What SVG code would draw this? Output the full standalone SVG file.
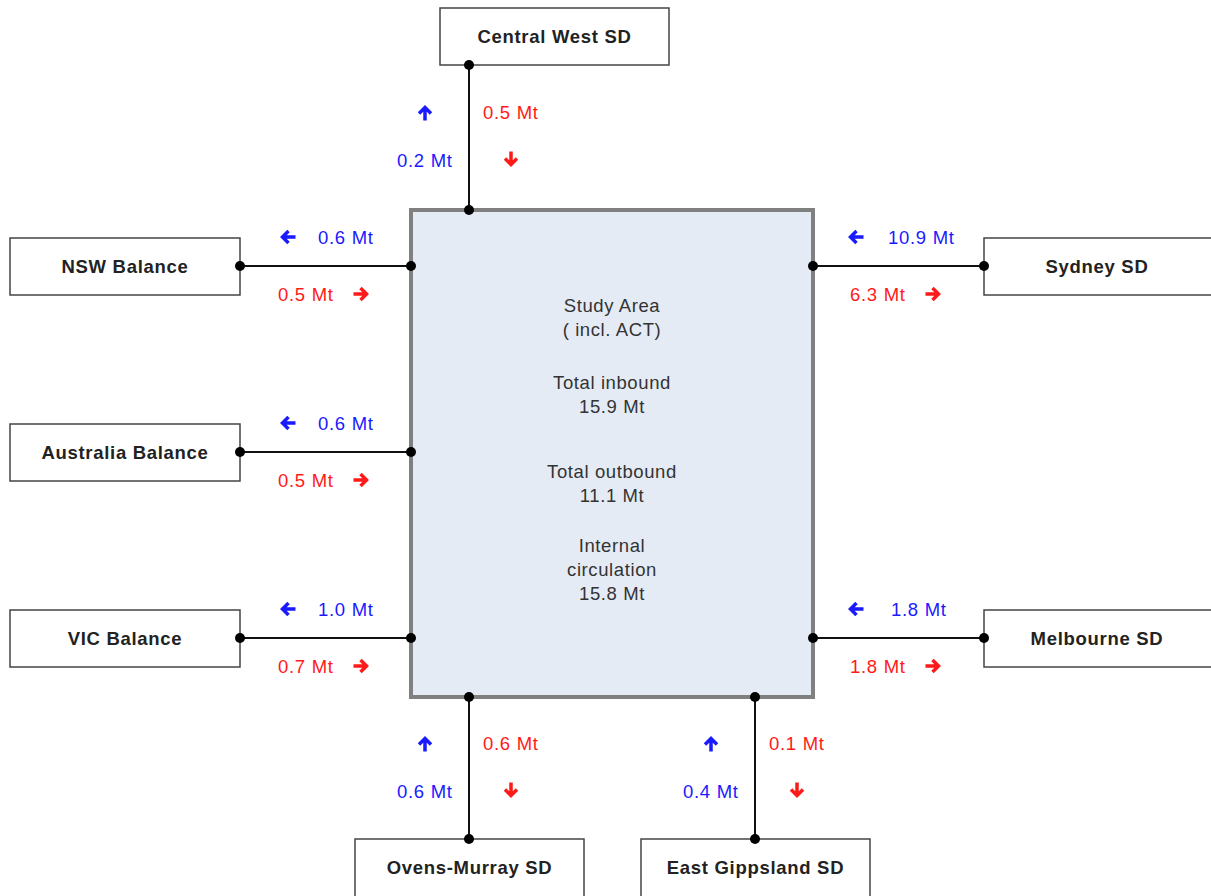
<svg xmlns="http://www.w3.org/2000/svg" width="1211" height="896" viewBox="0 0 1211 896">
<style>
.node{fill:#ffffff;stroke:#444444;stroke-width:1.5}
.nl{font-family:"Liberation Sans",Arial,sans-serif;font-size:18.5px;font-weight:bold;fill:#222222;text-anchor:middle;letter-spacing:0.7px}
.ct{font-family:"Liberation Sans",Arial,sans-serif;font-size:18.5px;fill:#333333;text-anchor:middle;letter-spacing:0.6px}
.lb{font-family:"Liberation Sans",Arial,sans-serif;font-size:18.5px;letter-spacing:0.7px}
.blue{fill:#1a1aff}
.red{fill:#ff1a1a}
.conn line{stroke:#111111;stroke-width:2}
.conn circle{fill:#000000}
.ab{stroke:#1a1aff;fill:none;stroke-width:3.5}
.ar{stroke:#ff1a1a;fill:none;stroke-width:3.5}
</style>
<defs>
<path id="arrow" d="M-7.5,0 H5 M-0.5,-6 L5.5,0 L-0.5,6"/>
</defs>

<g id="study-area">
<rect x="411" y="210" width="402" height="487" fill="#e5ebf5" stroke="#808080" stroke-width="4"/>
<text class="ct" x="612" y="311.5">Study Area</text>
<text class="ct" x="612" y="335.5">( incl. ACT)</text>
<text class="ct" x="612" y="388.5">Total inbound</text>
<text class="ct" x="612" y="412.5">15.9 Mt</text>
<text class="ct" x="612" y="477.5">Total outbound</text>
<text class="ct" x="612" y="501.5">11.1 Mt</text>
<text class="ct" x="612" y="551.5">Internal</text>
<text class="ct" x="612" y="575.5">circulation</text>
<text class="ct" x="612" y="599.5">15.8 Mt</text>
</g>

<g id="central-west">
<rect class="node" x="440" y="8" width="229" height="57"/>
<text class="nl" x="554.5" y="42.5">Central West SD</text>
</g>
<g id="nsw-balance">
<rect class="node" x="10" y="238" width="230" height="57"/>
<text class="nl" x="125" y="272.5">NSW Balance</text>
</g>
<g id="australia-balance">
<rect class="node" x="10" y="424" width="230" height="57"/>
<text class="nl" x="125" y="458.5">Australia Balance</text>
</g>
<g id="vic-balance">
<rect class="node" x="10" y="610" width="230" height="57"/>
<text class="nl" x="125" y="644.5">VIC Balance</text>
</g>
<g id="sydney">
<rect class="node" x="984" y="238" width="240" height="57"/>
<text class="nl" x="1097" y="272.5">Sydney SD</text>
</g>
<g id="melbourne">
<rect class="node" x="984" y="610" width="240" height="57"/>
<text class="nl" x="1097" y="644.5">Melbourne SD</text>
</g>
<g id="ovens-murray">
<rect class="node" x="355" y="839" width="229" height="70"/>
<text class="nl" x="469.5" y="873.5">Ovens-Murray SD</text>
</g>
<g id="east-gippsland">
<rect class="node" x="641" y="839" width="229" height="70"/>
<text class="nl" x="755.5" y="873.5">East Gippsland SD</text>
</g>

<g id="connectors" class="conn">
<line x1="469" y1="65" x2="469" y2="210"/>
<circle cx="469" cy="65" r="5"/><circle cx="469" cy="210" r="5"/>
<line x1="240" y1="266" x2="411" y2="266"/>
<circle cx="240" cy="266" r="5"/><circle cx="411" cy="266" r="5"/>
<line x1="240" y1="452" x2="411" y2="452"/>
<circle cx="240" cy="452" r="5"/><circle cx="411" cy="452" r="5"/>
<line x1="240" y1="638" x2="411" y2="638"/>
<circle cx="240" cy="638" r="5"/><circle cx="411" cy="638" r="5"/>
<line x1="813" y1="266" x2="984" y2="266"/>
<circle cx="813" cy="266" r="5"/><circle cx="984" cy="266" r="5"/>
<line x1="813" y1="638" x2="984" y2="638"/>
<circle cx="813" cy="638" r="5"/><circle cx="984" cy="638" r="5"/>
<line x1="469" y1="697" x2="469" y2="839"/>
<circle cx="469" cy="697" r="5"/><circle cx="469" cy="839" r="5"/>
<line x1="755" y1="697" x2="755" y2="839"/>
<circle cx="755" cy="697" r="5"/><circle cx="755" cy="839" r="5"/>
</g>

<g id="flow-labels">
<use href="#arrow" class="ab" transform="translate(425,113) rotate(-90)"/>
<text class="lb red" x="483" y="118.5">0.5 Mt</text>
<text class="lb blue" x="397" y="166.5">0.2 Mt</text>
<use href="#arrow" class="ar" transform="translate(511,159) rotate(90)"/>
<use href="#arrow" class="ab" transform="translate(288,237) rotate(180)"/>
<text class="lb blue" x="318" y="243.5">0.6 Mt</text>
<text class="lb red" x="278" y="300.5">0.5 Mt</text>
<use href="#arrow" class="ar" transform="translate(361,294)"/>
<use href="#arrow" class="ab" transform="translate(288,423) rotate(180)"/>
<text class="lb blue" x="318" y="429.5">0.6 Mt</text>
<text class="lb red" x="278" y="486.5">0.5 Mt</text>
<use href="#arrow" class="ar" transform="translate(361,480)"/>
<use href="#arrow" class="ab" transform="translate(288,609) rotate(180)"/>
<text class="lb blue" x="318" y="615.5">1.0 Mt</text>
<text class="lb red" x="278" y="672.5">0.7 Mt</text>
<use href="#arrow" class="ar" transform="translate(361,666)"/>
<use href="#arrow" class="ab" transform="translate(856,237) rotate(180)"/>
<text class="lb blue" x="888" y="243.5">10.9 Mt</text>
<text class="lb red" x="850" y="300.5">6.3 Mt</text>
<use href="#arrow" class="ar" transform="translate(933,294)"/>
<use href="#arrow" class="ab" transform="translate(856,609) rotate(180)"/>
<text class="lb blue" x="891" y="615.5">1.8 Mt</text>
<text class="lb red" x="850" y="672.5">1.8 Mt</text>
<use href="#arrow" class="ar" transform="translate(933,666)"/>
<use href="#arrow" class="ab" transform="translate(425,744) rotate(-90)"/>
<text class="lb red" x="483" y="749.5">0.6 Mt</text>
<text class="lb blue" x="397" y="797.5">0.6 Mt</text>
<use href="#arrow" class="ar" transform="translate(511,790) rotate(90)"/>
<use href="#arrow" class="ab" transform="translate(711,744) rotate(-90)"/>
<text class="lb red" x="769" y="749.5">0.1 Mt</text>
<text class="lb blue" x="683" y="797.5">0.4 Mt</text>
<use href="#arrow" class="ar" transform="translate(797,790) rotate(90)"/>
</g>
</svg>
